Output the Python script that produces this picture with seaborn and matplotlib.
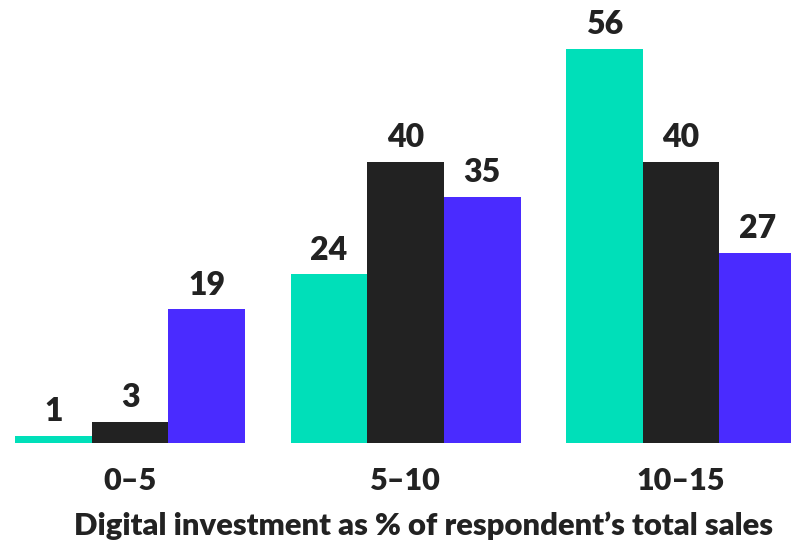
import matplotlib
matplotlib.use("Agg")
import matplotlib.pyplot as plt
import seaborn as sns
import pandas as pd

# Share of respondents by digital investment band
bands = ["0–5", "5–10", "10–15"]
series = ["A", "B", "C"]
values_a = [1, 24, 56]
values_b = [3, 40, 40]
values_c = [19, 35, 27]
palette = ["#00DFB9", "#222222", "#4A2BFF"]
xlabel = "Digital investment as % of respondent’s total sales"

rows = []
for name, vals in zip(series, [values_a, values_b, values_c]):
    for band, v in zip(bands, vals):
        rows.append({"band": band, "series": name, "value": v})
df = pd.DataFrame(rows)

sns.set_theme(style="white")
plt.rcParams["font.family"] = ["Lato", "DejaVu Sans"]

fig = plt.figure(figsize=(7.91, 5.44), dpi=100)
ax = fig.add_axes([0, 101 / 544, 1, 443 / 544])

sns.barplot(data=df, x="band", y="value", hue="series", order=bands,
            hue_order=series, palette=palette, width=0.835, saturation=1,
            ax=ax, legend=False, linewidth=0)

for cont in ax.containers:
    ax.bar_label(cont, labels=[f"{int(v)}" for v in cont.datavalues],
                 padding=7, fontsize=23, fontweight="heavy", color="#222222")

ax.set_xlim(-0.472, 2.399)
ax.set_ylim(0, 63)
ax.set_yticks([])
ax.set_ylabel("")
ax.set_xlabel(xlabel, fontsize=22.3, fontweight="heavy", color="#222222", labelpad=13)
ax.xaxis.set_label_coords(0.535, -0.155)
ax.tick_params(axis="x", length=0, pad=17, labelsize=22, labelcolor="#222222")
for lbl in ax.get_xticklabels():
    lbl.set_fontweight("heavy")
sns.despine(ax=ax, left=True, bottom=True)

fig.savefig("out.png", dpi=100)
